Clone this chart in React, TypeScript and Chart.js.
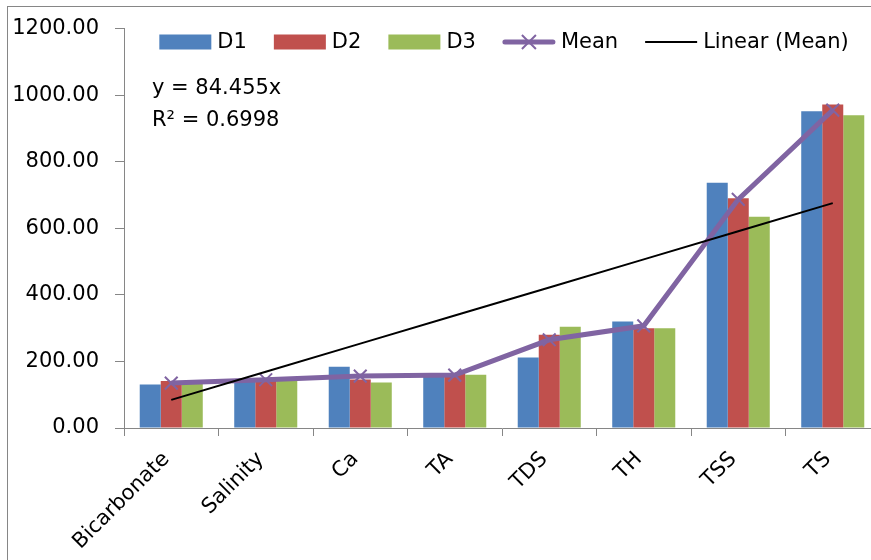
import React, { useEffect, useRef } from 'react';
import { Chart, registerables } from 'chart.js';

Chart.register(...registerables);

const categories = ['Bicarbonate', 'Salinity', 'Ca', 'TA', 'TDS', 'TH', 'TSS', 'TS'];
const d1Values = [131, 144, 184, 153, 212, 320, 737, 952];
const d2Values = [141, 146, 146, 163, 280, 300, 690, 972];
const d3Values = [132, 144, 137, 160, 304, 300, 635, 940];
const meanValues = [135, 145, 156, 159, 265, 307, 687, 955];
const trendValues = [84.5, 168.9, 253.4, 337.8, 422.3, 506.7, 591.2, 675.6];
const yTickValues = [0, 200, 400, 600, 800, 1000, 1200];
const equationLines = ['y = 84.455x', 'R\u00B2 = 0.6998'];
const legendLabels = ['D1', 'D2', 'D3', 'Mean', 'Linear (Mean)'];

const FONT = '"DejaVu Sans", sans-serif';
const BLUE = '#4F81BD';
const RED = '#C0504D';
const GREEN = '#9BBB59';
const PURPLE = '#8064A2';
const AXIS = '#868686';

const framePlugin = {
  id: 'frame',
  beforeDraw(chart: any) {
    const ctx = chart.ctx;
    ctx.save();
    ctx.fillStyle = '#fff';
    ctx.fillRect(0, 0, chart.width, chart.height);
    ctx.strokeStyle = AXIS;
    ctx.lineWidth = 1;
    ctx.strokeRect(7.5, 6.5, chart.width + 20, chart.height + 20);
    ctx.restore();
  },
};

const overlayPlugin = {
  id: 'overlay',
  afterDraw(chart: any) {
    const ctx = chart.ctx;
    const area = chart.chartArea;
    ctx.save();
    ctx.font = `21px ${FONT}`;
    ctx.fillStyle = '#000';
    ctx.textBaseline = 'middle';
    ctx.textAlign = 'left';

    // legend
    const boxW = 52;
    const gapBoxText = 6;
    const gapItems = 27;
    const widths = legendLabels.map((l) => boxW + gapBoxText + ctx.measureText(l).width);
    const total = widths.reduce((a, b) => a + b, 0) + gapItems * (legendLabels.length - 1);
    let x = (area.left + area.right) / 2 + 2 - total / 2;
    const cy = 42;
    const kinds = [BLUE, RED, GREEN, 'mean', 'trend'];
    legendLabels.forEach((label, i) => {
      const k = kinds[i];
      if (k === 'mean') {
        ctx.strokeStyle = PURPLE;
        ctx.lineWidth = 5;
        ctx.lineCap = 'round';
        ctx.beginPath();
        ctx.moveTo(x + 2, cy);
        ctx.lineTo(x + boxW - 2, cy);
        ctx.stroke();
        ctx.lineCap = 'butt';
        ctx.lineWidth = 2;
        const mx = x + boxW / 2;
        const r = 7;
        ctx.beginPath();
        ctx.moveTo(mx - r, cy - r);
        ctx.lineTo(mx + r, cy + r);
        ctx.moveTo(mx - r, cy + r);
        ctx.lineTo(mx + r, cy - r);
        ctx.stroke();
      } else if (k === 'trend') {
        ctx.strokeStyle = '#000';
        ctx.lineWidth = 2;
        ctx.beginPath();
        ctx.moveTo(x, cy);
        ctx.lineTo(x + boxW, cy);
        ctx.stroke();
      } else {
        ctx.fillStyle = k;
        ctx.fillRect(x, cy - 7.5, boxW, 15);
      }
      ctx.fillStyle = '#000';
      ctx.fillText(label, x + boxW + gapBoxText, cy + 1);
      x += widths[i] + gapItems;
    });

    // trendline equation
    ctx.fillText(equationLines[0], area.left + 28, 89);
    ctx.fillText(equationLines[1], area.left + 28, 121);
    ctx.restore();
  },
};

export default function App() {
  const canvasRef = useRef<HTMLCanvasElement | null>(null);

  useEffect(() => {
    const canvas = canvasRef.current;
    if (!canvas) return;
    const chart = new Chart(canvas, {
      type: 'bar',
      data: {
        labels: categories,
        datasets: [
          {
            type: 'line',
            label: 'Linear (Mean)',
            data: trendValues,
            borderColor: '#000',
            borderWidth: 2,
            pointRadius: 0,
            fill: false,
            order: 0,
          } as any,
          {
            type: 'line',
            label: 'Mean',
            data: meanValues,
            borderColor: PURPLE,
            borderWidth: 5,
            pointStyle: 'crossRot',
            pointRadius: 9,
            pointBorderWidth: 2,
            pointBorderColor: PURPLE,
            pointBackgroundColor: PURPLE,
            fill: false,
            order: 1,
          } as any,
          {
            label: 'D1',
            data: d1Values,
            backgroundColor: BLUE,
            categoryPercentage: 0.667,
            barPercentage: 1,
            order: 2,
          },
          {
            label: 'D2',
            data: d2Values,
            backgroundColor: RED,
            categoryPercentage: 0.667,
            barPercentage: 1,
            order: 2,
          },
          {
            label: 'D3',
            data: d3Values,
            backgroundColor: GREEN,
            categoryPercentage: 0.667,
            barPercentage: 1,
            order: 2,
          },
        ],
      },
      options: {
        responsive: false,
        animation: false,
        devicePixelRatio: 1,
        layout: { padding: { top: 28, left: 0, right: 4, bottom: 0 } },
        plugins: {
          legend: { display: false },
          tooltip: { enabled: false },
        },
        scales: {
          x: {
            grid: {
              drawOnChartArea: false,
              drawTicks: true,
              tickLength: 8,
              color: AXIS,
              offset: true,
            },
            border: { color: AXIS, width: 1 },
            ticks: {
              autoSkip: false,
              maxRotation: 45,
              minRotation: 45,
              padding: 11,
              labelOffset: -5,
              color: '#000',
              font: { family: FONT, size: 21 },
            },
            afterFit: (s: any) => {
              s.height = 132;
            },
          },
          y: {
            min: 0,
            max: 1200,
            afterBuildTicks: (s: any) => {
              s.ticks = yTickValues.map((v) => ({ value: v }));
            },
            grid: {
              drawOnChartArea: false,
              drawTicks: true,
              tickLength: 9,
              color: AXIS,
            },
            border: { color: AXIS, width: 1 },
            ticks: {
              padding: 16,
              color: '#000',
              font: { family: FONT, size: 21 },
              callback: (v: any) => Number(v).toFixed(2),
            },
            afterFit: (s: any) => {
              s.width = 124;
            },
          },
        },
      },
      plugins: [framePlugin, overlayPlugin],
    });
    return () => chart.destroy();
  }, []);

  return (
    <div
      style={{
        position: 'fixed',
        left: 0,
        top: 0,
        width: 871,
        height: 560,
        overflow: 'hidden',
        background: '#fff',
      }}
    >
      <canvas ref={canvasRef} width={891} height={560} style={{ display: 'block', width: 891, height: 560 }} />
    </div>
  );
}
